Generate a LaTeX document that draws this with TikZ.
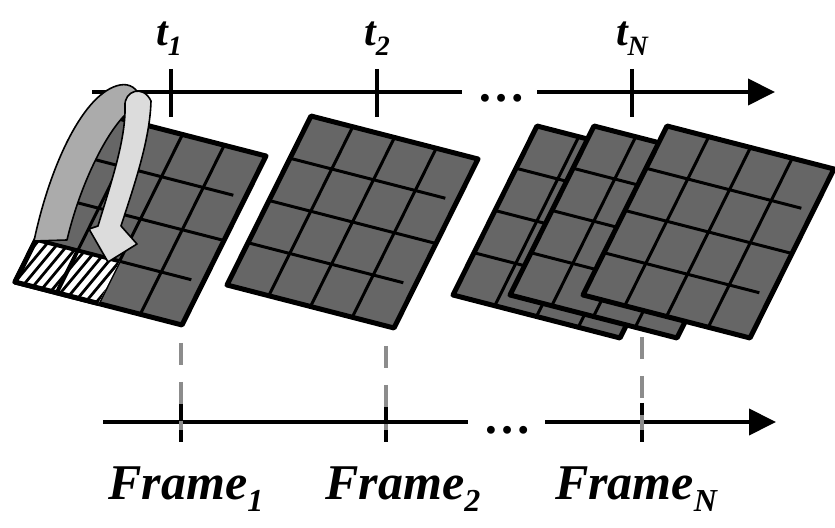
\documentclass[tikz,border=0pt]{standalone}
\usepackage{fontspec}
\setmainfont{Liberation Serif}
\usetikzlibrary{arrows.meta}
\definecolor{framegray}{HTML}{666666}
\definecolor{guidegray}{HTML}{8C8C8C}
\definecolor{ribbondark}{HTML}{ABABAB}
\definecolor{ribbonlight}{HTML}{DCDCDC}
\newcommand{\tsub}[1]{\raisebox{-5pt}{\fontsize{14}{14}\selectfont #1}}
\newcommand{\fsub}[1]{\raisebox{-6pt}{\fontsize{16}{16}\selectfont #1}}
\begin{document}
\begin{tikzpicture}[x=0.5pt, y=-0.5pt,
    frameedge/.style={draw=black, line width=2.5pt, line join=round},
    gridline/.style={line width=1.5pt},
    axis/.style={line width=2pt},
    axisarrow/.style={line width=2pt, -{Triangle[length=13.5pt,width=13pt]}},
    tickmark/.style={line width=2pt},
    guide/.style={draw=guidegray, line width=2pt, dash pattern=on 11pt off 8.5pt},
    hatchline/.style={line width=1.4pt},
    ribbonline/.style={draw=black, line width=0.8pt, line join=round},
    tlabel/.style={anchor=base, inner sep=0pt, font=\fontsize{21}{21}\selectfont\bfseries\itshape},
    flabel/.style={anchor=base, inner sep=0pt, font=\fontsize{25}{25}\selectfont\bfseries\itshape},
    dots/.style={anchor=base, inner sep=0pt, font=\fontsize{24}{24}\selectfont\bfseries}]
\useasboundingbox (0,0) rectangle (835,528);

% frames, back to front
\foreach \name/\bx/\by in {fN3/453/295, fN2/510/295, fN1/583/295, f2/227/285, f1/15/282} {
    \begin{scope}[shift={(\bx,\by)}]
        \fill[framegray] (0,0) -- (167,43) -- (251,-126) -- (84,-169) -- cycle;
        \foreach \k in {1,2,3}
            \draw[gridline] (\k*41.75,\k*10.75) -- ++(84,-169);
        \foreach \k/\len in {1/0.93,2/1,3/0.93}
            \draw[gridline] (\k*21,-\k*42.25) -- ++(\len*167,\len*43);
        \draw[frameedge] (0,0) coordinate (\name-bl) -- (167,43) coordinate (\name-br)
            -- (251,-126) coordinate (\name-tr) -- (84,-169) coordinate (\name-tl) -- cycle;
    \end{scope}
}

% hatched cells in the first frame
\begin{scope}[shift={(15,282)}]
    \fill[white] (0,0) -- (83.5,21.5) -- (104.5,-20.75) -- (21,-42.25) -- cycle;
    \begin{scope}
        \clip (0,0) -- (83.5,21.5) -- (104.5,-20.75) -- (21,-42.25) -- cycle;
        \foreach \i in {-6,...,12}
            \draw[hatchline] (\i*9-30,\i*2.3+36) -- ++(90,-108);
    \end{scope}
    \draw[line width=2pt] (41.75,10.75) -- ++(21,-42.25);
    \draw[line width=2pt] (21,-42.25) -- ++(83.5,21.5);
    \draw[frameedge] (21,-42.25) -- (0,0) -- (83.5,21.5);
\end{scope}

% top time axis
\coordinate (ta) at (92,92);
\coordinate (tb) at (462,92);
\coordinate (tc) at (537,92);
\coordinate (td) at (775,92);
\draw[axis] (ta) -- (tb);
\draw[axisarrow] (tc) -- (td);
\node[dots] (tdots) at (501,102) {…};
\foreach \n/\x/\lx in {1/171/169, 2/377/377, N/632/632} {
    \coordinate (tt\n) at (\x,92);
    \draw[tickmark] (tt\n) ++(0,-23) -- ++(0,48);
    \node[tlabel] (lt\n) at (\lx,46) {t\tsub{\n}};
}

% curved arrow over the first frame
\draw[ribbonline, fill=ribbondark] (34,241) .. controls (50,165) and (84,92) .. (120,85)
    .. controls (130,83) and (138,89) .. (140,98) -- (128,112)
    .. controls (106,132) and (80,185) .. (67,240) -- cycle;
\draw[ribbonline, fill=ribbonlight] (125,106) .. controls (124,91) and (143,84) .. (151,101)
    .. controls (150,140) and (134,186) .. (121,226) -- (137,244) -- (108,262)
    -- (89,229) -- (98,226) .. controls (110,186) and (126,140) .. (125,106) -- cycle;

% bottom frame axis
\coordinate (ba) at (103,422);
\coordinate (bb) at (468,422);
\coordinate (bc) at (545,422);
\coordinate (bd) at (776,422);
\draw[axis] (ba) -- (bb);
\draw[axisarrow] (bc) -- (bd);
\node[dots] (bdots) at (507,434) {…};
\foreach \n/\x/\gy/\lx in {1/181/343/186, 2/386/346/403, N/642/337/636} {
    \coordinate (bt\n) at (\x,422);
    \coordinate (gt\n) at (\x,\gy);
    \draw[tickmark] (bt\n) ++(0,-19) -- ++(0,39);
    \draw[guide] (gt\n) -- ([yshift=-4pt]bt\n);
    \node[flabel] (lf\n) at (\lx,500) {Frame\fsub{\n}};
}
\end{tikzpicture}
\end{document}
